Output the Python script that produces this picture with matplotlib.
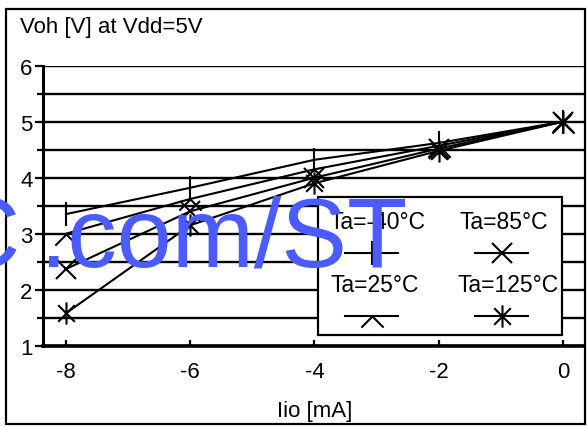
import matplotlib
matplotlib.use("Agg")
import matplotlib.pyplot as plt
from matplotlib.path import Path
from matplotlib.lines import Line2D
from matplotlib.patches import Rectangle

plt.rcParams['font.family'] = ['Liberation Sans', 'DejaVu Sans']

# ---- data ----
iio = [-8, -6, -4, -2, 0]
voh_m40 = [3.35, 3.82, 4.32, 4.62, 5.0]
voh_25 = [3.0, 3.62, 4.15, 4.57, 5.0]
voh_85 = [2.37, 3.40, 4.00, 4.52, 5.0]
voh_125 = [1.58, 3.15, 3.90, 4.48, 5.0]
labels = ["Ta=-40°C", "Ta=25°C", "Ta=85°C", "Ta=125°C"]
xticks = [-8, -6, -4, -2, 0]
yticks = [1, 2, 3, 4, 5, 6]

W, H = 588, 427
fig = plt.figure(figsize=(W / 100, H / 100), dpi=100)

def fx(x):
    return x / W

def fy(y):
    return 1 - y / H

FS = 16

# custom markers
caret = Path([(-1, -1), (0, 0), (1, -1)], [Path.MOVETO, Path.LINETO, Path.LINETO])
star = Path([(0, -1), (0, 1), (-0.75, -0.75), (0.75, 0.75), (-0.75, 0.75), (0.75, -0.75)],
            [Path.MOVETO, Path.LINETO, Path.MOVETO, Path.LINETO, Path.MOVETO, Path.LINETO])

styles = [
    dict(marker='|', markersize=17),
    dict(marker=caret, markersize=16),
    dict(marker='x', markersize=14),
    dict(marker=star, markersize=16),
]

ax = fig.add_axes([fx(43), fy(346.7), fx(584 - 43), 280 / H])
ax.set_xlim(-8.37, 0.34)
ax.set_ylim(1, 6)

for vals, st in zip([voh_m40, voh_25, voh_85, voh_125], styles):
    ax.plot(iio, vals, color='black', lw=1.5, mfc='none', mec='black', mew=1.5,
            clip_on=False, zorder=4, **st)

ax.set_xticks(xticks)
ax.set_xticklabels([str(t) for t in xticks])
ax.set_yticks(yticks)
ax.set_yticklabels([str(t) for t in yticks])
ax.set_yticks([y + 0.5 for y in yticks[:-1]], minor=True)
ax.grid(True, axis='y', which='both', color='black', lw=1.7)
ax.set_axisbelow(True)
for s in ['top', 'right']:
    ax.spines[s].set_visible(False)
ax.spines['left'].set_linewidth(2.2)
ax.spines['bottom'].set_linewidth(2.6)
ax.tick_params(axis='y', which='major', direction='out', length=6, width=1.6,
               labelsize=FS, pad=1.5)
ax.tick_params(axis='y', which='minor', direction='out', length=4.5, width=1.6)
ax.tick_params(axis='x', which='major', direction='in', length=4.5, width=1.6,
               labelsize=FS, pad=11)

# outer frame
fig.add_artist(Rectangle((fx(6), fy(425)), fx(585 - 6), (425 - 10) / H,
                         transform=fig.transFigure, fill=False, lw=1.6,
                         edgecolor='black', zorder=1))

# title and x label
fig.text(fx(20), fy(33), "Voh [V] at Vdd=5V", fontsize=FS, va='baseline', ha='left')
fig.text(fx(315), fy(417), "Iio [mA]", fontsize=FS, va='baseline', ha='center')

# legend (manual: label above handle)
fig.add_artist(Rectangle((fx(318), fy(336)), fx(562 - 318), (336 - 198) / H,
                         transform=fig.transFigure, facecolor='white',
                         edgecolor='black', lw=1.6, zorder=2))
leg_pos = [  # (text center x, text baseline y, line x0, line x1, line y)
    (378, 229, 345, 398, 254),
    (375, 292, 345, 398, 317),
    (504, 229, 475, 528, 254),
    (508, 292, 475, 528, 317),
]
for lab, st, (tx, ty, x0, x1, ly) in zip(labels, styles, leg_pos):
    fig.text(fx(tx), fy(ty), lab, fontsize=FS + 0.5, ha='center', va='baseline', zorder=3)
    fig.add_artist(Line2D([fx(x0), fx(x1)], [fy(ly), fy(ly)], transform=fig.transFigure,
                          color='black', lw=1.5, zorder=3))
    fig.add_artist(Line2D([fx((x0 + x1) / 2)], [fy(ly)], transform=fig.transFigure,
                          color='black', lw=0, mfc='none', mec='black', mew=1.5,
                          zorder=3, **st))

# watermark
WM = '#4a5cff'
fig.text(fx(20), fy(267), "C", fontsize=72, color=WM, ha='right', va='baseline', zorder=10)
fig.text(fx(407), fy(267), ".com/ST", fontsize=71, color=WM,
         ha='right', va='baseline', zorder=10)

fig.savefig("out.png", dpi=100)
